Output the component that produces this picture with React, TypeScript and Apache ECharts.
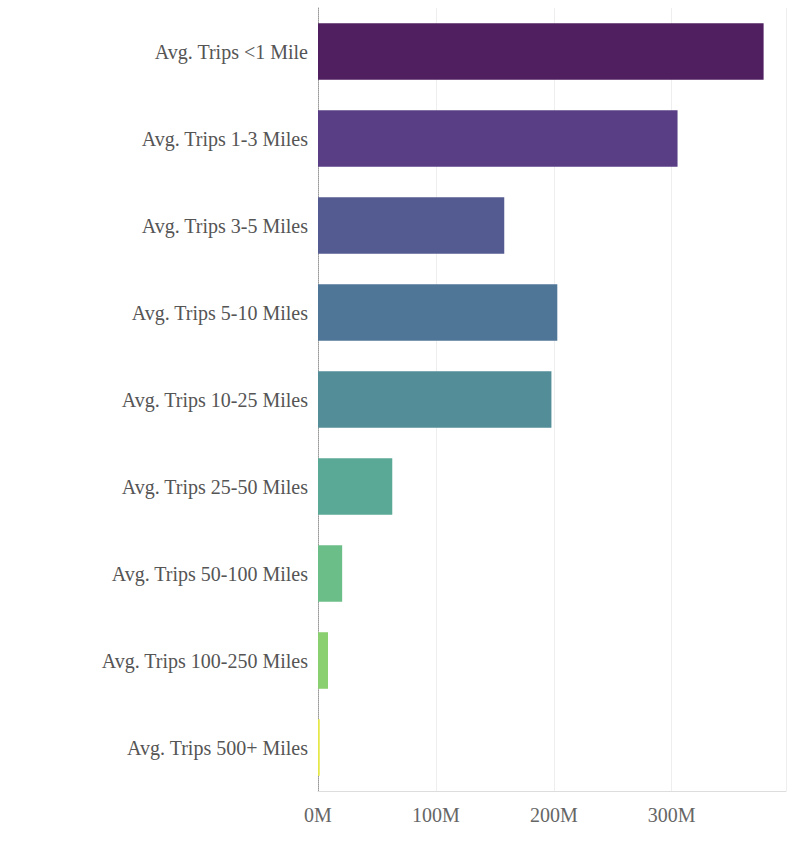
import { useEffect, useRef } from "react";
import * as echarts from "echarts";

const categories = [
  "Avg. Trips <1 Mile",
  "Avg. Trips 1-3 Miles",
  "Avg. Trips 3-5 Miles",
  "Avg. Trips 5-10 Miles",
  "Avg. Trips 10-25 Miles",
  "Avg. Trips 25-50 Miles",
  "Avg. Trips 50-100 Miles",
  "Avg. Trips 100-250 Miles",
  "Avg. Trips 500+ Miles",
];
const values = [378e6, 305e6, 158e6, 203e6, 198e6, 63e6, 20.5e6, 8.5e6, 1.5e6];
const colors = [
  "#4f1f5f", "#5a3e85", "#545b90", "#4f7597", "#528d98",
  "#5aa896", "#6cbe88", "#8bd070", "#e6e84a",
];

export default function App() {
  const ref = useRef<HTMLDivElement>(null);

  useEffect(() => {
    document.body.style.margin = "0";
    if (!ref.current) return;
    const chart = echarts.init(ref.current, null, { renderer: "svg" });
    chart.setOption({
      animation: false,
      grid: { left: 318, right: 24, top: 8, bottom: 65 },
      xAxis: {
        type: "value",
        min: 0,
        max: 397e6,
        interval: 100e6,
        axisLine: { show: true, lineStyle: { color: "#ddd" } },
        axisTick: { show: false },
        splitLine: { show: true, lineStyle: { color: "#eee" } },
        axisLabel: {
          showMaxLabel: false,
          color: "#666",
          fontFamily: "Liberation Serif",
          fontSize: 20,
          margin: 14,
          formatter: (v: number) => `${Math.round(v / 1e6)}M`,
        },
      },
      yAxis: {
        type: "category",
        inverse: true,
        data: categories,
        axisLine: { show: true, lineStyle: { color: "#999", type: "dotted" } },
        axisTick: { show: false },
        axisLabel: {
          color: "#555",
          fontFamily: "Liberation Serif",
          fontSize: 20,
          margin: 10,
        },
      },
      series: [
        {
          type: "bar",
          barWidth: "65%",
          data: values.map((v, i) => ({ value: v, itemStyle: { color: colors[i] } })),
        },
      ],
    });
    return () => chart.dispose();
  }, []);

  return <div ref={ref} style={{ width: 810, height: 856 }} />;
}
